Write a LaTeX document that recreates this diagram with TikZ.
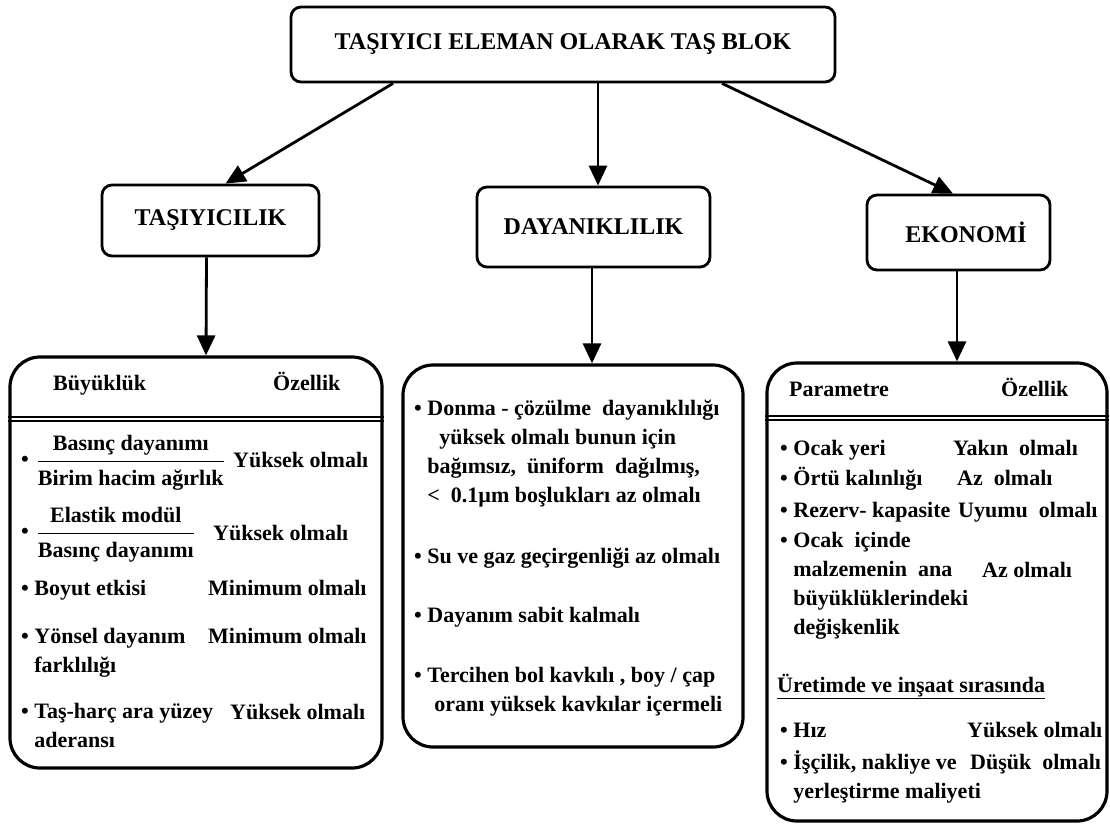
\documentclass[tikz,border=0pt]{standalone}
\usepackage{fontspec}
\setmainfont{Liberation Serif}
\usetikzlibrary{arrows.meta, positioning}
\tikzset{
    header/.style={rectangle, draw, rounded corners=10pt, line width=2.8pt,
                   align=center, font=\fontsize{24}{28}\selectfont\bfseries},
    panel/.style={rectangle, draw, rounded corners=30pt, line width=3.2pt},
    item/.style={anchor=base west, inner sep=0pt, align=left,
                 font=\fontsize{22}{29}\selectfont\bfseries},
    arrow/.style={-{Triangle[length=20pt, width=18pt]}, line width=2.8pt},
    sepline/.style={line width=1.2pt},
}
\newcommand{\oranbox}[2]{{\renewcommand{\arraystretch}{1.15}%
    \setlength{\arrayrulewidth}{1.6pt}%
    \begin{tabular}{@{}c@{}}#1\\\hline #2\end{tabular}}}
\newcommand{\ind}{\hphantom{•~}}

\begin{document}
\begin{tikzpicture}[x=1pt, y=-1pt]
    \useasboundingbox (0,0) rectangle (1110,825);

    % ── MAIN ──
    \node[header, minimum width=544pt, minimum height=75pt] (top) at (563,44.5)
        {TAŞIYICI ELEMAN OLARAK TAŞ BLOK};

    % ── GROUPS ──
    \node[header, minimum width=217pt, minimum height=71pt] (tasi) at (210.5,220.5) {TAŞIYICILIK};
    \node[header, minimum width=233pt, minimum height=80pt] (day) at (593.5,227) {DAYANIKLILIK};
    \node[header, minimum width=183pt, minimum height=75pt] (eko) at (958.5,232.5) {\hspace{15pt}EKONOMİ};

    % ── PANELS ──
    \node[panel, minimum width=372pt, minimum height=411pt] (lbox) at (196,562.5) {};
    \node[panel, minimum width=340pt, minimum height=382pt] (mbox) at (573,556) {};
    \node[panel, minimum width=340pt, minimum height=458pt] (rbox) at (937,592) {};

    % ── ARROWS ──
    \draw[arrow] ([xshift=-170pt]top.south) -- ([xshift=15pt]tasi.north);
    \draw[arrow] ([xshift=35pt]top.south) -- ([xshift=4.5pt]day.north);
    \draw[arrow] ([xshift=159pt]top.south) -- ([xshift=-5.5pt]eko.north);
    \draw[arrow] ([xshift=-4pt]tasi.south) -- ([xshift=10pt]lbox.north);
    \draw[arrow] ([xshift=-1.5pt]day.south) -- ([xshift=19pt]mbox.north);
    \draw[arrow] ([xshift=-1.5pt]eko.south) -- ([xshift=20pt]rbox.north);

    % ── TAŞIYICILIK ──
    \node[item] (lh1) at (53,390) {Büyüklük};
    \node[item] (lh2) at (273,390) {Özellik};
    \draw[sepline] (lbox.west |- 0,417) -- (lbox.east |- 0,417);
    \draw[sepline] (lbox.west |- 0,421) -- (lbox.east |- 0,421);
    \node[item] (l1) at (21,466.5) {•\hspace{9pt}\oranbox{Basınç dayanımı}{Birim hacim ağırlık}};
    \node[item] (l1r) at (233,467) {Yüksek olmalı};
    \node[item] (l2) at (21,538.5) {•\hspace{9pt}\oranbox{Elastik modül}{Basınç dayanımı}};
    \node[item] (l2r) at (213,540) {Yüksek olmalı};
    \node[item] (l3) at (21,595) {• Boyut etkisi};
    \node[item] (l3r) at (208,595) {Minimum olmalı};
    \node[item] (l4) at (21,672) {• Yönsel dayanım\\\ind farklılığı};
    \node[item] (l4r) at (208,643) {Minimum olmalı};
    \node[item] (l5) at (21,747) {• Taş-harç ara yüzey\\\ind aderansı};
    \node[item] (l5r) at (230,719) {Yüksek olmalı};

    % ── DAYANIKLILIK ──
    \node[item] (m1) at (414,502) {• Donma - çözülme\ \ dayanıklılığı\\
        \ind\hspace{12pt}yüksek olmalı bunun için\\
        \ind bağımsız,\ \ üniform\ \ dağılmış,\\
        \ind <\ \ 0.1µm boşlukları az olmalı};
    \node[item] (m2) at (414,563) {• Su ve gaz geçirgenliği az olmalı};
    \node[item] (m3) at (414,622) {• Dayanım sabit kalmalı};
    \node[item] (m4) at (414,711) {• Tercihen bol kavkılı , boy / çap\\
        \ind\hspace{7pt}oranı yüksek kavkılar içermeli};

    % ── EKONOMİ ──
    \node[item] (rh1) at (789,396) {Parametre};
    \node[item] (rh2) at (1001,396) {Özellik};
    \draw[sepline] (rbox.west |- 0,416) -- (rbox.east |- 0,416);
    \draw[sepline] (rbox.west |- 0,420) -- (rbox.east |- 0,420);
    \node[item] (r1) at (780,455) {• Ocak yeri};
    \node[item] (r1r) at (953,455) {Yakın\ \ olmalı};
    \node[item] (r2) at (780,485) {• Örtü kalınlığı};
    \node[item] (r2r) at (957,485) {Az\ \ olmalı};
    \node[item] (r3) at (780,517) {• Rezerv- kapasite};
    \node[item] (r3r) at (958,517) {Uyumu\ \ olmalı};
    \node[item] (r4) at (780,634) {• Ocak\ \ içinde\\\ind malzemenin\ \ ana\\
        \ind büyüklüklerindeki\\\ind değişkenlik};
    \node[item] (r4r) at (982,577) {Az olmalı};
    \node[item] (r5) at (777,692) {\underline{Üretimde ve inşaat sırasında}};
    \node[item] (r6) at (780,737) {• Hız};
    \node[item] (r6r) at (967,737) {Yüksek olmalı};
    \node[item] (r7) at (780,798) {• İşçilik, nakliye ve\\\ind yerleştirme maliyeti};
    \node[item] (r7r) at (970,769) {Düşük\ \ olmalı};

\end{tikzpicture}
\end{document}
